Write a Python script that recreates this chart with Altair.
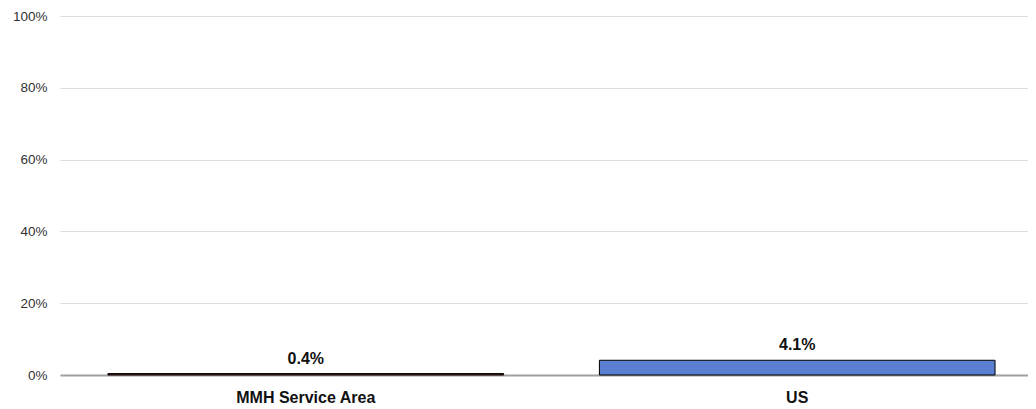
import altair as alt
import pandas as pd

categories = ["MMH Service Area", "US"]
values = [0.004, 0.041]
labels = ["0.4%", "4.1%"]
fills = ["#6e2424", "#5a7fd0"]

df = pd.DataFrame({"cat": categories, "val": values, "lab": labels, "fill": fills})

FONT = "Liberation Sans, Arial, sans-serif"

x = alt.X("cat:N", sort=categories, title=None,
          scale=alt.Scale(range=[0, 983], paddingInner=0.195, paddingOuter=0.0976),
          axis=alt.Axis(labelAngle=0, ticks=False, domain=True, domainColor="#a0a0a0",
                        domainWidth=2, labelFont=FONT, labelFontSize=16,
                        labelFontWeight="bold", labelColor="#111111", labelPadding=14))
y = alt.Y("val:Q", title=None,
          scale=alt.Scale(domain=[0, 1], nice=False),
          axis=alt.Axis(values=[0, 0.2, 0.4, 0.6, 0.8, 1.0], format=".0%", domain=False,
                        ticks=False, grid=True, gridColor="#dddddd", labelFont=FONT,
                        labelFontSize=13.5, labelColor="#333333", labelPadding=13))

bars = alt.Chart(df).mark_bar(stroke="black", strokeWidth=1).encode(
    x=x, y=y, fill=alt.Fill("fill:N", scale=None))

text = alt.Chart(df).mark_text(baseline="bottom", dy=-7, font=FONT, fontSize=16,
                               fontWeight="bold", color="#111111").encode(
    x=alt.X("cat:N", sort=categories), y="val:Q", text="lab:N")

chart = alt.layer(bars, text).properties(
    width=968, height=359,
    autosize=alt.AutoSizeParams(type="none"),
    padding={"left": 52, "top": 8, "right": 0, "bottom": 34},
).configure_view(stroke=None)

chart.save("out.html", embed_options={"renderer": "svg", "actions": False})
